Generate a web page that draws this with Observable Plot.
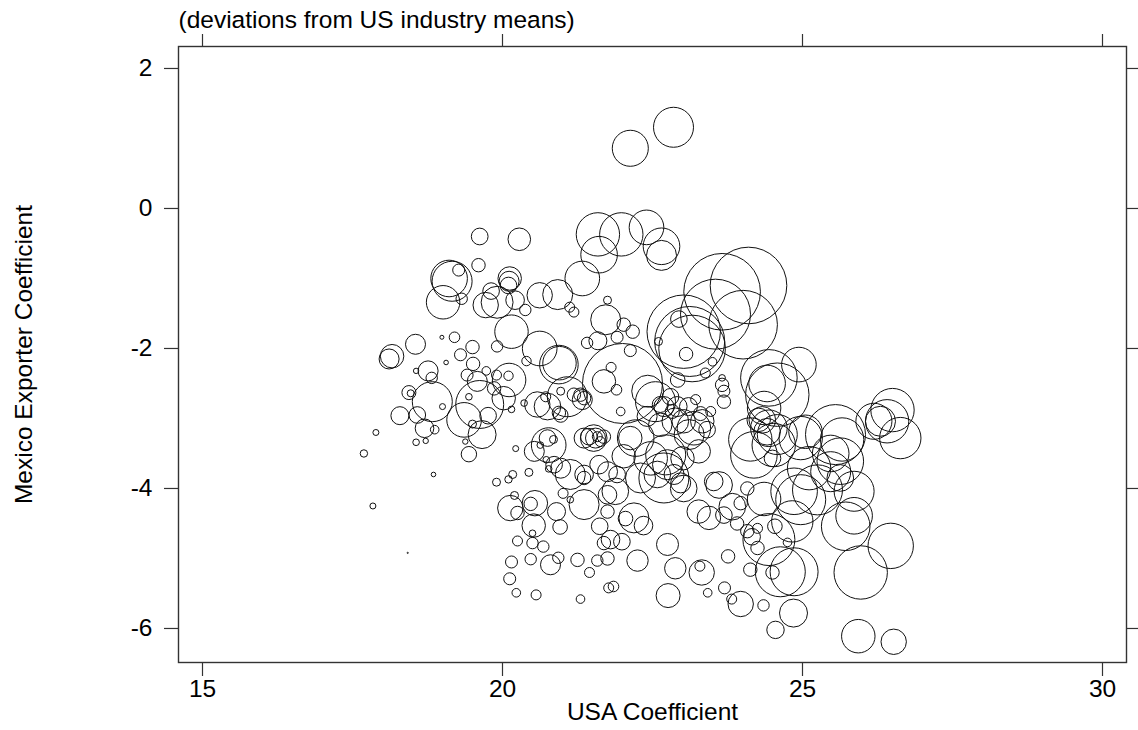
<!DOCTYPE html>
<html>
<head>
<meta charset="utf-8">
<script src="https://cdn.jsdelivr.net/npm/d3@7"></script>
<script src="https://cdn.jsdelivr.net/npm/@observablehq/plot@0.6"></script>
<style>
  html, body { margin: 0; padding: 0; background: #fff; }
</style>
</head>
<body>
<div id="chart"></div>
<script>
// Industry-level coefficients: USA coefficient vs. Mexico exporter coefficient,
// each circle weighted by the industry's size.
const usaCoef = [
  19.62, 20.28, 21.59, 21.98, 22.40, 22.65, 22.65, 21.61, 19.60, 19.11,
  19.16, 19.27, 19.01, 19.32, 20.12, 20.11, 20.10, 19.81, 19.91, 19.72,
  20.21, 20.38, 20.62, 20.92, 21.33, 21.12, 21.19, 21.75, 21.72, 20.15,
  20.62, 20.94, 20.95, 19.91, 19.50, 19.20, 18.99, 19.30, 19.06, 18.55,
  18.16, 18.11, 18.76, 18.56, 18.82, 19.51, 19.41, 19.58, 19.73, 19.90,
  20.10, 20.11, 19.86, 20.40, 21.41, 21.59, 21.69, 21.08, 19.44, 23.66,
  24.10, 23.55, 24.01, 23.02, 23.12, 23.16, 22.94, 23.06, 22.60, 22.02,
  22.17, 21.91, 22.13, 22.00, 21.81, 21.90, 21.97, 22.42, 22.92, 23.38,
  23.50, 23.66, 23.69, 24.94, 24.44, 24.41, 24.58, 24.36, 24.27, 24.41,
  24.52, 24.50, 25.55, 25.05, 26.41, 26.50, 26.30, 26.63, 26.19, 25.11,
  25.47, 25.63, 25.86, 24.86, 24.08, 22.55, 22.80, 22.69, 22.91, 22.22,
  22.13, 21.52, 21.36, 21.44, 20.75, 23.19, 23.33, 23.27, 23.41, 23.02,
  22.72, 21.75, 21.91, 22.02, 22.30, 22.58, 22.86, 23.69, 20.94, 22.75,
  22.25, 22.88, 23.32, 23.29, 22.76, 21.85, 21.75, 23.76, 23.42, 23.70,
  23.82, 23.97, 24.35, 24.85, 24.55, 25.93, 26.52, 25.97, 26.47, 25.72,
  25.86, 24.86, 24.63, 24.44, 24.83, 24.97, 25.25, 25.63, 24.36, 24.19,
  24.13, 24.58, 24.44, 24.33, 24.97, 25.66, 25.47, 24.16, 24.25, 24.54,
  24.75, 24.25, 24.13, 24.50, 23.83, 23.69, 23.91, 23.44, 23.27, 23.52,
  23.61, 22.69, 23.02, 22.19, 22.05, 22.35, 21.99, 21.80, 21.88, 21.75,
  22.47, 22.75, 23.11, 23.00, 22.97, 22.63, 22.88, 22.41, 24.08, 23.97,
  18.83, 18.29, 18.58, 18.70, 18.87, 19.00, 18.56, 18.72, 17.89, 17.69,
  18.85, 17.84, 18.42, 19.36, 19.62, 19.66, 19.76, 19.50, 19.44, 19.38,
  18.44, 18.47, 20.15, 20.36, 20.58, 20.22, 20.77, 20.53, 20.85, 20.63,
  20.86, 20.73, 20.77, 20.44, 20.17, 20.10, 19.90, 20.13, 20.47, 20.20,
  20.25, 20.54, 20.52, 20.50, 20.25, 20.50, 20.68, 20.90, 20.96, 20.15,
  20.47, 20.80, 20.93, 20.12, 20.23, 20.56, 21.25, 21.45, 21.58, 21.30,
  21.13, 21.36, 21.36, 21.36, 21.13, 21.01, 21.61, 21.62, 21.69, 21.75,
  21.55, 21.63, 21.69, 20.97, 20.75, 21.36, 20.02, 21.77, 22.13, 22.85,
  21.30, 20.72, 20.97, 21.19, 21.33, 21.58, 20.97, 23.47, 23.66, 22.63,
  22.83, 23.10, 23.30, 23.22
];

const mexicoCoef = [
  -0.40, -0.44, -0.37, -0.37, -0.27, -0.54, -0.67, -0.66, -0.81, -1.00,
  -1.04, -0.88, -1.34, -1.29, -1.00, -1.04, -1.10, -1.18, -1.34, -1.38,
  -1.31, -1.45, -1.24, -1.23, -1.00, -1.41, -1.48, -1.31, -1.59, -1.76,
  -2.00, -2.23, -2.21, -1.97, -1.98, -1.84, -1.84, -2.09, -2.20, -1.94,
  -2.11, -2.15, -2.32, -2.32, -2.42, -2.22, -2.38, -2.47, -2.32, -2.38,
  -2.39, -2.45, -2.57, -2.18, -1.92, -1.89, -2.47, -2.69, -2.69, -1.19,
  -1.10, -1.51, -1.66, -1.76, -1.90, -2.00, -1.58, -2.08, -1.90, -1.66,
  -1.76, -1.84, -2.03, -2.50, -2.27, -2.59, -2.90, -2.61, -2.45, -2.35,
  -2.19, -2.52, -2.76, -2.23, -2.42, -2.50, -2.66, -2.85, -3.02, -3.19,
  -3.38, -3.57, -3.23, -3.19, -3.04, -2.88, -3.04, -3.28, -3.04, -3.71,
  -3.76, -3.85, -4.04, -4.04, -4.00, -2.76, -2.69, -2.83, -2.83, -3.28,
  -3.28, -3.28, -3.28, -3.26, -3.28, -3.14, -3.04, -3.47, -3.16, -3.04,
  -3.52, -3.76, -3.80, -3.54, -3.85, -3.80, -3.80, -2.61, -2.92, -4.80,
  -5.03, -5.14, -5.20, -5.11, -5.53, -5.40, -5.00, -4.97, -5.49, -5.42,
  -5.58, -5.65, -5.67, -5.78, -6.02, -6.11, -6.19, -5.20, -4.82, -4.54,
  -4.39, -5.19, -5.19, -4.73, -4.47, -4.16, -4.02, -3.61, -4.15, -3.52,
  -3.30, -3.23, -3.14, -3.02, -3.28, -3.30, -3.50, -4.69, -4.57, -4.54,
  -4.77, -4.85, -5.16, -5.20, -4.26, -4.38, -4.50, -4.42, -4.33, -3.90,
  -3.95, -3.85, -4.00, -4.42, -4.43, -4.53, -4.76, -4.73, -4.04, -4.09,
  -3.57, -3.66, -3.23, -3.57, -3.92, -3.09, -3.04, -2.97, -4.61, -4.21,
  -2.76, -2.96, -2.95, -3.14, -3.16, -2.83, -3.34, -3.32, -3.20, -3.50,
  -3.80, -4.25, -4.92, -3.02, -2.80, -3.23, -2.96, -3.08, -3.51, -3.33,
  -2.63, -2.64, -2.87, -2.78, -2.80, -3.43, -3.38, -3.47, -3.30, -3.38,
  -3.66, -3.59, -3.72, -3.77, -3.80, -3.87, -3.91, -4.28, -4.22, -4.10,
  -4.35, -4.21, -4.53, -4.64, -4.75, -4.78, -4.83, -4.33, -4.55, -5.05,
  -5.01, -5.09, -4.99, -5.29, -5.49, -5.52, -5.02, -5.20, -5.03, -5.58,
  -3.80, -3.80, -3.85, -4.23, -4.16, -4.07, -3.66, -4.54, -4.78, -4.33,
  -3.28, -3.33, -3.26, -2.95, -2.83, -2.71, -2.71, -5.42, 0.86, 1.16,
  -2.66, -2.69, -2.61, -2.66, -2.73, -3.26, -3.71, -2.90, -2.42, -2.80,
  -2.90, -2.83, -2.93, -2.73
];

const industryWeight = [
  2.8, 5.1, 18.8, 18.8, 12.0, 13.4, 9.0, 13.4, 1.8, 13.4,
  16.0, 1.44, 11.2, 1.3, 5.5, 4.0, 2.76, 2.76, 10.2, 6.45,
  3.46, 1.3, 6.45, 9.0, 12.0, 1.0, 1.0, 0.64, 9.0, 11.2,
  12.0, 14.9, 11.2, 1.3, 1.8, 1.12, 0.16, 1.44, 0.21, 4.0,
  5.5, 4.0, 4.0, 0.29, 1.3, 1.8, 1.44, 4.0, 0.74, 1.0,
  0.88, 11.2, 1.8, 0.88, 1.3, 3.24, 5.5, 16.0, 0.44, 58.7,
  58.7, 49.0, 47.1, 53.9, 49.0, 44.4, 2.76, 1.8, 0.64, 1.8,
  1.8, 1.44, 1.44, 64.0, 1.0, 1.12, 0.74, 10.2, 2.13, 1.0,
  0.74, 1.8, 1.8, 12.0, 32.0, 13.4, 40.2, 11.2, 5.5, 7.1,
  18.8, 2.76, 36.0, 11.2, 18.8, 18.8, 9.0, 17.1, 13.0, 18.8,
  16.0, 7.1, 16.0, 21.7, 1.8, 16.0, 2.76, 4.0, 4.0, 13.4,
  5.5, 7.1, 4.0, 2.76, 2.76, 11.2, 5.5, 5.5, 2.76, 5.5,
  16.0, 4.0, 2.76, 5.5, 9.0, 7.1, 4.0, 1.44, 1.8, 4.84,
  4.58, 4.58, 6.45, 1.0, 5.76, 1.12, 1.8, 1.8, 0.74, 1.44,
  1.0, 6.45, 1.3, 7.84, 3.03, 11.2, 6.45, 28.5, 20.6, 23.6,
  13.4, 23.0, 25.0, 27.0, 17.1, 25.0, 25.0, 21.7, 11.2, 21.7,
  18.8, 16.0, 13.4, 7.1, 18.8, 18.8, 13.4, 2.76, 1.0, 2.13,
  0.74, 1.8, 1.8, 1.8, 7.1, 2.76, 1.8, 5.5, 5.5, 3.46,
  7.1, 25.0, 7.1, 9.0, 2.13, 3.46, 2.76, 3.46, 7.1, 3.46,
  11.2, 9.0, 9.0, 5.5, 4.0, 5.5, 7.1, 4.0, 1.8, 1.8,
  16.0, 3.24, 2.76, 3.46, 0.74, 0.36, 0.44, 0.29, 0.36, 0.55,
  0.21, 0.36, 0.015, 12.0, 23.0, 7.84, 2.76, 0.64, 2.37, 0.29,
  1.96, 0.49, 0.44, 0.44, 6.45, 0.36, 12.0, 4.0, 0.64, 0.44,
  2.76, 0.44, 0.44, 0.64, 0.64, 0.55, 0.64, 6.45, 1.8, 0.64,
  1.8, 6.45, 5.5, 0.44, 1.0, 1.3, 1.3, 3.24, 2.13, 1.44,
  1.3, 4.0, 1.3, 1.44, 0.74, 1.0, 1.8, 1.0, 1.3, 0.74,
  9.0, 3.46, 1.8, 9.0, 0.44, 1.0, 3.46, 2.76, 1.8, 1.8,
  4.0, 1.0, 1.8, 2.13, 7.1, 1.8, 5.5, 1.0, 13.0, 16.0,
  1.8, 1.0, 0.64, 1.8, 4.0, 1.0, 4.0, 1.0, 0.44, 2.56,
  1.96, 3.24, 1.96, 1.0
];

const xTicks = [15, 20, 25, 30];
const yTicks = [-6, -4, -2, 0, 2];

const subtitle = "(deviations from US industry means)";
const xTitle = "USA Coefficient";
const yTitle = "Mexico Exporter Coefficient";

const industries = usaCoef.map((x, i) => ({
  usa: x,
  mexico: mexicoCoef[i],
  weight: industryWeight[i]
}));

const ink = "#333";
const fmt = d => String(d);

const chart = Plot.plot({
  width: 1138,
  height: 730,
  marginLeft: 178,
  marginRight: 12,
  marginTop: 46,
  marginBottom: 68,
  style: {
    fontFamily: "'Liberation Sans', Arial, Helvetica, sans-serif",
    fontSize: "24.5px",
    color: "#000",
    background: "#fff"
  },
  x: { domain: [14.6, 30.4] },
  y: { domain: [-6.486, 2.314] },
  r: { type: "sqrt", domain: [0, 100], range: [0, 50] },
  marks: [
    Plot.frame({ stroke: ink, strokeWidth: 1.4 }),
    Plot.axisX(xTicks, { anchor: "bottom", tickSize: 14, tickPadding: 3, tickFormat: fmt, stroke: ink, strokeWidth: 1.2, label: null }),
    Plot.axisX(xTicks, { anchor: "top", tickSize: 13, tickFormat: () => "", stroke: ink, strokeWidth: 1.2, label: null }),
    Plot.axisY(yTicks, { anchor: "left", tickSize: 14, tickPadding: 12, tickFormat: fmt, stroke: ink, strokeWidth: 1.2, label: null }),
    Plot.axisY(yTicks, { anchor: "right", tickSize: 14, tickFormat: () => "", stroke: ink, strokeWidth: 1.2, label: null }),
    Plot.dot(industries, { x: "usa", y: "mexico", r: "weight", stroke: "#111", strokeWidth: 1, fill: "none" }),
    Plot.text([subtitle], { text: d => d, frameAnchor: "top-left", textAnchor: "start", lineAnchor: "middle", dy: -26 }),
    Plot.text([xTitle], { text: d => d, frameAnchor: "bottom", textAnchor: "middle", lineAnchor: "middle", dy: 50 }),
    Plot.text([yTitle], { text: d => d, frameAnchor: "left", textAnchor: "middle", lineAnchor: "middle", rotate: -90, dx: -154 })
  ]
});

document.getElementById("chart").append(chart);
</script>
</body>
</html>
